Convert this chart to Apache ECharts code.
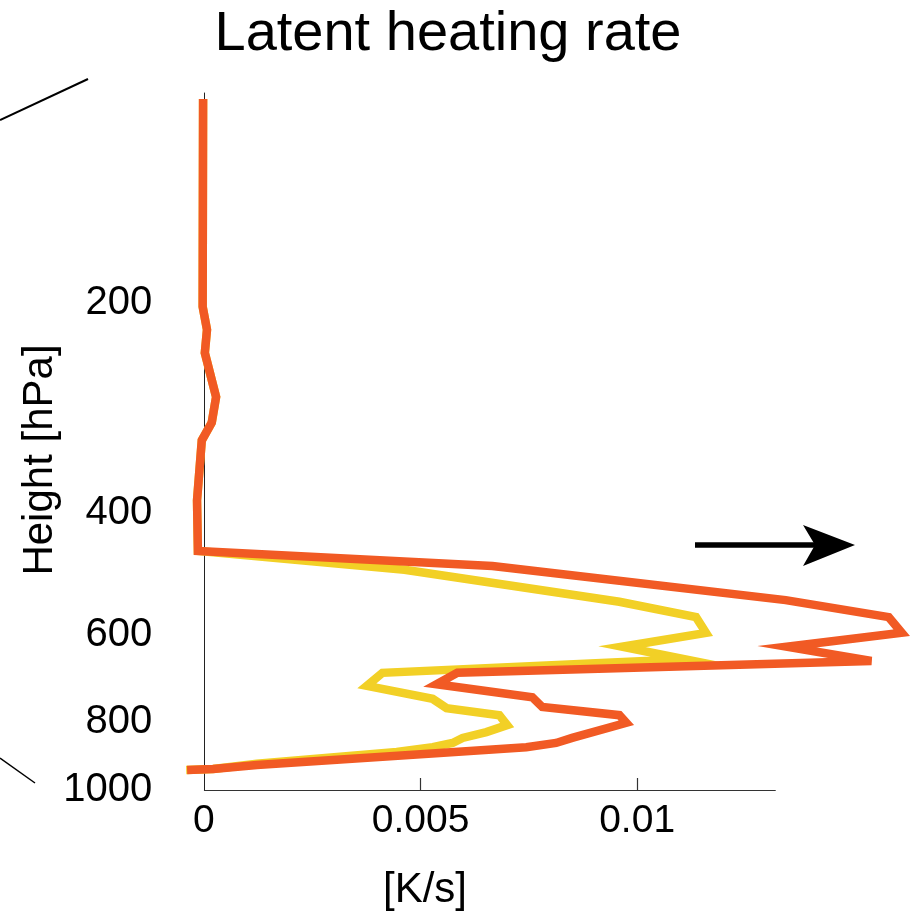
<!DOCTYPE html>
<html>
<head>
<meta charset="utf-8">
<script src="https://cdn.jsdelivr.net/npm/echarts@6/dist/echarts.min.js"></script>
<style>
html,body{margin:0;padding:0;background:#fff;}
#chart{width:910px;height:921px;}
</style>
</head>
<body>
<div id="chart"></div>
<script>
// ---- data (pressure in hPa, latent heating rate in K/s) ----
const orangePressure = [102, 202.6, 218.6, 236, 273, 297, 315, 384, 454, 477, 534, 565, 595, 623, 653, 679, 705, 736, 760, 781, 801, 842, 856, 868, 885, 921, 933, 936];
const orangeRate = [-0.00002, -0.00003, 0.00007, 0.00002, 0.00028, 0.00018, -0.00005, -0.00016, -0.00014, 0.00666, 0.01343, 0.01581, 0.01611, 0.01346, 0.01541, 0.00585, 0.00537, 0.00758, 0.00781, 0.00959, 0.00975, 0.0085, 0.00813, 0.00744, 0.00544, 0.00122, 0.00021, -0.00039];

const yellowPressure = [102, 202.6, 218.6, 236, 273, 297, 315, 384, 454, 483, 537, 565, 595, 623, 649, 679, 709, 740, 763, 781, 807, 826, 842, 856, 868, 882, 917, 933, 936];
const yellowRate = [-0.00002, -0.00003, 0.00007, 0.00002, 0.00028, 0.00018, -0.00005, -0.00016, -0.00014, 0.00463, 0.00959, 0.01136, 0.01159, 0.00965, 0.01108, 0.00412, 0.00376, 0.00528, 0.0056, 0.00682, 0.007, 0.00652, 0.00597, 0.00574, 0.00528, 0.00445, 0.00122, 0.00021, -0.00041];

const yTickLabels = [200, 400, 600, 800, 1000];
const xTickLabels = [0, 0.005, 0.01];
const xTickMarks = [0.005, 0.01];
const xAxisEnd = 0.0132;   // drawn x-axis line ends here

// ---- build ----
const FONT = "'Liberation Sans', Arial, sans-serif";
const toPts = (ps, vs) => ps.map((p, i) => [vs[i], Math.log10(p)]);
const yBottom = Math.log10(yTickLabels[yTickLabels.length - 1]);

const chart = echarts.init(document.getElementById('chart'), null, {renderer: 'canvas'});
chart.setOption({
  animation: false,
  backgroundColor: '#ffffff',
  title: {
    text: 'Latent heating rate',
    left: 443, top: 2, textAlign: 'center',
    textStyle: {fontFamily: FONT, fontSize: 56, fontWeight: 'normal', color: '#000'}
  },
  grid: {left: 182.3, top: 93, width: 729, height: 697, containLabel: false},
  xAxis: {
    type: 'value', min: -0.0005, max: 0.0163,
    splitLine: {show: false},
    axisLine: {show: false},
    axisTick: {show: true, inside: true, length: 12, customValues: xTickMarks, lineStyle: {color: '#333', width: 1.2}},
    axisLabel: {
      customValues: xTickLabels, margin: 12,
      fontFamily: FONT, fontSize: 39, color: '#000',
      formatter: v => String(v)
    }
  },
  yAxis: {
    type: 'value', min: 2, max: 3, inverse: true,
    splitLine: {show: false},
    axisLine: {show: true, onZero: true, lineStyle: {color: '#222', width: 1}},
    axisTick: {show: false},
    axisLabel: {
      customValues: yTickLabels.map(v => Math.log10(v)), margin: 30,
      fontFamily: FONT, fontSize: 40, color: '#000',
      formatter: v => String(Math.round(Math.pow(10, v)))
    }
  },
  series: [
    {
      name: 'yellow', type: 'line', data: toPts(yellowPressure, yellowRate),
      showSymbol: false, symbol: 'none', silent: true,
      lineStyle: {color: '#F2D026', width: 8.5, join: 'miter', cap: 'butt'},
      markLine: {
        silent: true, symbol: ['none', 'none'], label: {show: false},
        lineStyle: {color: '#333', width: 1.2, type: 'solid'},
        data: [[{coord: [0, yBottom]}, {coord: [xAxisEnd, yBottom]}]]
      }
    },
    {
      name: 'orange', type: 'line', data: toPts(orangePressure, orangeRate),
      showSymbol: false, symbol: 'none', silent: true,
      lineStyle: {color: '#F15A24', width: 8.5, join: 'miter', cap: 'butt'}
    }
  ],
  graphic: [
    {type: 'line', shape: {x1: 0, y1: 120, x2: 88, y2: 79}, style: {stroke: '#000', lineWidth: 2}},
    {type: 'line', shape: {x1: 0, y1: 758, x2: 35, y2: 783}, style: {stroke: '#000', lineWidth: 1.5}},
    {type: 'line', shape: {x1: 695, y1: 545, x2: 818, y2: 545}, style: {stroke: '#000', lineWidth: 5.5}},
    {type: 'polygon', shape: {points: [[803, 525], [855, 545], [803, 566], [815, 545]]}, style: {fill: '#000'}},
    {type: 'text', x: 425, y: 890, style: {text: '[K/s]', fontFamily: FONT, fontSize: 42, fill: '#000', textAlign: 'center', textVerticalAlign: 'middle'}},
    {type: 'text', x: 40, y: 460, rotation: Math.PI / 2, style: {text: 'Height [hPa]', fontFamily: FONT, fontSize: 42, fill: '#000', textAlign: 'center', textVerticalAlign: 'middle'}}
  ]
});
</script>
</body>
</html>
